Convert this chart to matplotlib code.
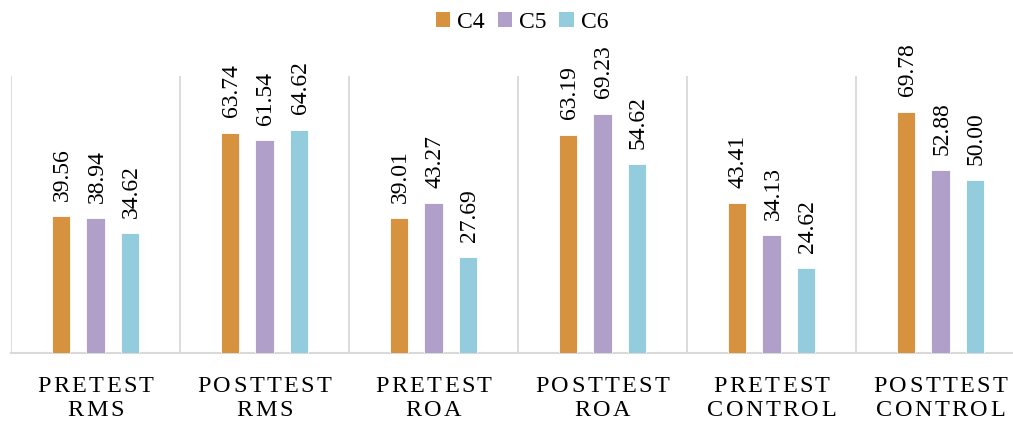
import matplotlib
matplotlib.use("Agg")
import matplotlib.pyplot as plt
import numpy as np
from matplotlib.patches import Patch
from matplotlib.font_manager import FontProperties
from matplotlib.textpath import TextToPath

categories = ["PRETEST\nRMS", "POSTTEST\nRMS", "PRETEST\nROA", "POSTTEST\nROA", "PRETEST\nCONTROL", "POSTTEST\nCONTROL"]
series_names = ["C4", "C5", "C6"]
c4 = [39.56, 63.74, 39.01, 63.19, 43.41, 69.78]
c5 = [38.94, 61.54, 43.27, 69.23, 34.13, 52.88]
c6 = [34.62, 64.62, 27.69, 54.62, 24.62, 50.00]
colors = ["#D79240", "#B09FC8", "#93CDDD"]

plt.rcParams['font.family'] = ['Liberation Serif', 'DejaVu Serif']

W, H = 1013, 421
fig = plt.figure(figsize=(W / 100, H / 100), dpi=100)
ax = fig.add_axes([11 / W, (H - 353.3) / H, 1014 / W, 277 / H])

x = np.arange(len(categories))
bw = 0.108
step = 0.205
for i, (vals, col) in enumerate(zip([c4, c5, c6], colors)):
    pos = x + (i - 1) * step
    ax.bar(pos, vals, width=bw, color=col, edgecolor='white', linewidth=0.6, zorder=3)
    for xp, v in zip(pos, vals):
        ax.annotate(f"{v:.2f}", (xp, v), xytext=(1, 11), textcoords='offset points',
                    rotation=90, ha='center', va='bottom', fontsize=17, color='black')

ax.set_xlim(-0.5, len(categories) - 0.5)
ax.set_ylim(0, 80)
for b in np.arange(-0.5, len(categories), 1.0):
    ax.axvline(b, color='#D9D9D9', linewidth=1.3, zorder=1)
for s in ['top', 'right', 'left']:
    ax.spines[s].set_visible(False)
ax.spines['bottom'].set_color('#D9D9D9')
ax.spines['bottom'].set_linewidth(1.5)
ax.set_yticks([])
ax.set_xticks(x)
ax.set_xticklabels([])
ax.tick_params(axis='x', length=0)

# letter-spaced category labels
fs = 17.5
tracking = 1.7  # points between letters
fp = FontProperties(family='Liberation Serif', size=fs)
t2p = TextToPath()
baselines = [27.6, 45.2]  # points below axis
for xc, cat in zip(x, categories):
    for li, line in enumerate(cat.split("\n")):
        widths = [t2p.get_text_width_height_descent(ch, fp, ismath=False)[0] for ch in line]
        total = sum(widths) + tracking * (len(line) - 1)
        off = -total / 2
        for ch, w in zip(line, widths):
            ax.annotate(ch, xy=(xc, 0), xycoords=('data', 'axes fraction'),
                        xytext=(off, -baselines[li]), textcoords='offset points',
                        ha='left', va='baseline', fontproperties=fp, color='black',
                        annotation_clip=False)
            off += w + tracking

handles = [Patch(facecolor=c, edgecolor='none') for c in colors]
fig.legend(handles, series_names, loc='center', bbox_to_anchor=(522 / W, 1 - 22 / H),
           ncol=3, frameon=False, fontsize=17, handlelength=0.6, handleheight=0.6,
           handletextpad=0.3, columnspacing=0.55)

fig.savefig("out.png", dpi=100)
